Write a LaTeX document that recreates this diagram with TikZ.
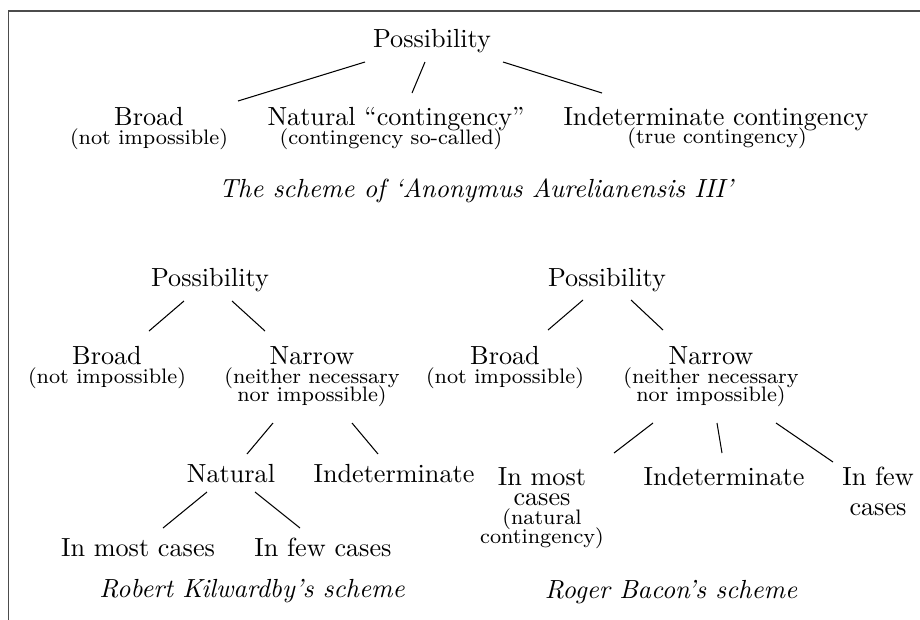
\documentclass[tikz,border=0pt]{standalone}
\usetikzlibrary{calc}
\begin{document}
\begin{tikzpicture}[x=0.3817pt,y=-0.3817pt,
  lbl/.style={anchor=base, inner sep=0pt},
  sublbl/.style={lbl, font=\footnotesize},
  captlbl/.style={lbl, font=\itshape},
  conn/.style={draw=black, line width=0.4pt},
  frameline/.style={draw=black!70, line width=0.5pt}]
\useasboundingbox (0,0) rectangle (920,619);
% frame
\coordinate (fa) at (8.5,640);
\coordinate (fb) at (8.5,11);
\coordinate (fc) at (940,11);
\draw[frameline] (fa) -- (fb) -- (fc);

% ---------- top scheme ----------
\node[lbl] (p0) at (432,47) {Possibility};
\node[lbl] (b0) at (149,125) {Broad};
\node[sublbl] (b0s) at (149,144) {(not impossible)};
\node[lbl] (n0) at (396,125) {Natural ``contingency''};
\node[sublbl] (n0s) at (391,144) {(contingency so-called)};
\node[lbl] (i0) at (716,125) {Indeterminate contingency};
\node[sublbl] (i0s) at (717,143) {(true contingency)};
\draw[conn] ($(p0.base)+(-67,15)$) -- ($(b0.base)+(89,-24)$);
\draw[conn] ($(p0.base)+(-7,15)$) -- ($(n0.base)+(16,-32)$);
\draw[conn] ($(p0.base)+(71,15)$) -- ($(i0.base)+(-114,-32)$);
\node[captlbl] (c0) at (476,197) {The scheme of `Anonymus Aurelianensis III'};

% ---------- Kilwardby ----------
\node[lbl] (p1) at (210,286) {Possibility};
\node[lbl] (b1) at (107,364) {Broad};
\node[sublbl] (b1s) at (107,383) {(not impossible)};
\node[lbl] (n1) at (312,364) {Narrow};
\node[sublbl] (n1s) at (312,383) {(neither necessary};
\node[sublbl] (n1t) at (312,401) {nor impossible)};
\draw[conn] ($(p1.base)+(-26,15)$) -- ($(b1.base)+(42,-33)$);
\draw[conn] ($(p1.base)+(22,15)$) -- ($(n1.base)+(-47,-33)$);
\node[lbl] (nat1) at (231,482) {Natural};
\node[lbl] (ind1) at (394,482) {Indeterminate};
\draw[conn] ($(n1.base)+(-39,59)$) -- ($(nat1.base)+(16,-28)$);
\draw[conn] ($(n1.base)+(40,59)$) -- ($(ind1.base)+(-16,-28)$);
\node[lbl] (m1) at (138,556) {In most cases};
\node[lbl] (f1) at (323,556) {In few cases};
\draw[conn] ($(nat1.base)+(-24,10)$) -- ($(m1.base)+(25,-28)$);
\draw[conn] ($(nat1.base)+(24,10)$) -- ($(f1.base)+(-23,-28)$);
\node[captlbl] (c1) at (252,597) {Robert Kilwardby's scheme};

% ---------- Bacon ----------
\node[lbl] (p2) at (607,286) {Possibility};
\node[lbl] (b2) at (505,364) {Broad};
\node[sublbl] (b2s) at (505,383) {(not impossible)};
\node[lbl] (n2) at (711,364) {Narrow};
\node[sublbl] (n2s) at (711,383) {(neither necessary};
\node[sublbl] (n2t) at (711,401) {nor impossible)};
\draw[conn] ($(p2.base)+(-24,14)$) -- ($(b2.base)+(43,-34)$);
\draw[conn] ($(p2.base)+(24,14)$) -- ($(n2.base)+(-48,-34)$);
\node[lbl] (m2) at (542,485) {In most};
\node[lbl] (m2b) at (542,505) {cases};
\node[sublbl] (m2c) at (542,524) {(natural};
\node[sublbl] (m2d) at (542,543) {contingency)};
\node[lbl] (ind2) at (724,485) {Indeterminate};
\node[lbl] (f2) at (878,485) {In few};
\node[lbl] (f2b) at (878,515) {cases};
\draw[conn] ($(n2.base)+(-58,59)$) -- ($(m2.base)+(72,-32)$);
\draw[conn] ($(n2.base)+(6,59)$) -- ($(ind2.base)+(-2,-32)$);
\draw[conn] ($(n2.base)+(65,59)$) -- ($(f2.base)+(-45,-23)$);
\node[captlbl] (c2) at (671,598) {Roger Bacon's scheme};
\end{tikzpicture}
\end{document}
